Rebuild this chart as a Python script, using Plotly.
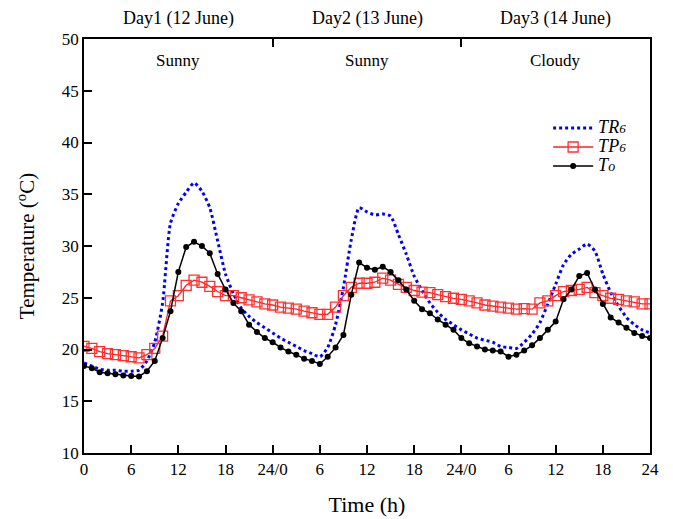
import plotly.graph_objects as go

hours = list(range(0, 73))

TR6 = [18.7, 18.4, 18.1, 18.0, 18.0, 17.9, 17.9, 18.0, 18.9, 20.7, 24.5, 32.2, 34.1, 35.2, 36.1, 35.3,
       33.7, 30.5, 27.3, 25.4, 24.0, 23.2, 22.6, 22.1, 21.6, 21.1, 20.7, 20.3, 19.9, 19.6, 19.3, 20.2,
       22.4, 26.0, 30.6, 33.7, 33.3, 33.0, 33.1, 32.9, 31.1, 29.2, 27.1, 25.7, 24.5, 23.6, 22.9, 22.4,
       21.9, 21.5, 21.1, 20.9, 20.7, 20.3, 20.2, 20.1, 20.7, 21.5, 22.6, 24.4, 26.3, 28.2, 29.2, 29.7,
       30.2, 29.5, 27.3, 25.5, 24.2, 23.1, 22.4, 21.9, 21.6]

TP6 = [20.3, 20.1, 19.8, 19.6, 19.5, 19.4, 19.3, 19.2, 19.5, 20.1, 21.3, 24.7, 25.2, 26.2, 26.7, 26.5,
       26.1, 25.6, 25.2, 25.2, 25.0, 24.8, 24.6, 24.4, 24.3, 24.1, 24.0, 23.9, 23.7, 23.55, 23.4, 23.4,
       24.1, 25.2, 26.0, 26.4, 26.4, 26.5, 26.9, 26.7, 26.3, 26.0, 25.7, 25.55, 25.5, 25.3, 25.1, 24.95,
       24.85, 24.7, 24.5, 24.3, 24.2, 24.1, 24.0, 23.9, 23.95, 23.9, 24.5, 24.7, 25.2, 25.6, 25.7, 25.8,
       26.0, 25.5, 25.2, 24.95, 24.85, 24.7, 24.6, 24.4, 24.4]

To = [18.4, 18.2, 17.8, 17.7, 17.6, 17.5, 17.45, 17.4, 17.9, 18.9, 21.1, 23.7, 27.5, 29.9, 30.4, 30.0,
      29.3, 27.3, 25.8, 24.5, 23.7, 22.4, 21.7, 21.1, 20.7, 20.2, 19.8, 19.5, 19.1, 18.9, 18.6, 19.3,
      20.2, 21.4, 25.3, 28.4, 27.9, 27.7, 28.0, 27.5, 26.7, 25.8, 24.7, 23.9, 23.5, 22.9, 22.4, 21.9,
      21.1, 20.6, 20.3, 20.0, 19.9, 19.8, 19.3, 19.5, 19.9, 20.4, 21.1, 21.9, 22.7, 24.85, 25.8, 27.1,
      27.4, 25.8, 24.4, 23.1, 22.6, 22.1, 21.6, 21.3, 21.1]

x_tickvals = [0, 6, 12, 18, 24, 30, 36, 42, 48, 54, 60, 66, 72]
x_ticktext = ["0", "6", "12", "18", "24/0", "6", "12", "18", "24/0", "6", "12", "18", "24"]
day_labels = ["Day1 (12 June)", "Day2 (13 June)", "Day3 (14 June)"]
day_centers = [12, 36, 60]
weather = ["Sunny", "Sunny", "Cloudy"]
day_bounds = [24, 48]

FONT = "Liberation Serif, Times New Roman, serif"

fig = go.Figure()
fig.add_trace(go.Scatter(
    x=hours, y=TR6, mode="lines",
    name="<i><span style='font-size:18px'>TR</span><span style='font-size:13px'>6</span></i>",
    line=dict(color="#0000ff", width=3, dash="dot", shape="spline", smoothing=0.6)))
fig.add_trace(go.Scatter(
    x=hours, y=TP6, mode="lines+markers",
    name="<i><span style='font-size:18px'>TP</span><span style='font-size:13px'>6</span></i>",
    line=dict(color="#ff2020", width=1.3),
    marker=dict(symbol="square-open", size=10, color="#ff3030", line=dict(width=1.3))))
fig.add_trace(go.Scatter(
    x=hours, y=To, mode="lines+markers",
    name="<i><span style='font-size:18px'>T</span><span style='font-size:14px'>o</span></i>",
    line=dict(color="black", width=1.5),
    marker=dict(symbol="circle", size=6, color="black")))
# invisible trace to carry the top axis
fig.add_trace(go.Scatter(x=[0, 72], y=[10, 10], xaxis="x2", mode="lines",
                         line=dict(width=0), showlegend=False, hoverinfo="skip"))

for c, d, w in zip(day_centers, day_labels, weather):
    fig.add_annotation(x=c, y=1.0, xref="x", yref="paper", text=d, showarrow=False,
                       yanchor="middle", yshift=21, font=dict(family=FONT, size=18, color="black"))
    fig.add_annotation(x=c, y=1.0, xref="x", yref="paper", text=w, showarrow=False,
                       yanchor="middle", yshift=-21, font=dict(family=FONT, size=17, color="black"))

fig.update_layout(
    width=673, height=519,
    margin=dict(l=84, r=23, t=39, b=66),
    paper_bgcolor="white", plot_bgcolor="white",
    font=dict(family=FONT, size=17, color="black"),
    showlegend=True,
    legend=dict(x=0.82, y=0.82, xanchor="left", yanchor="top", bgcolor="rgba(255,255,255,0)",
                font=dict(family=FONT, size=12), tracegroupgap=0, itemwidth=40),
    xaxis=dict(range=[0, 72], tickvals=x_tickvals, ticktext=x_ticktext, ticks="inside",
               ticklen=8, tickwidth=1.5, tickcolor="black", showline=True, linecolor="black",
               linewidth=1.5, mirror=True, showgrid=False, zeroline=False, automargin=False,
               title=dict(text="Time (h)", font=dict(family=FONT, size=22), standoff=18),
               tickfont=dict(family=FONT, size=17)),
    xaxis2=dict(range=[0, 72], overlaying="x", side="top", tickvals=day_bounds, ticks="inside",
                ticklen=8, tickwidth=1.5, tickcolor="black", showticklabels=False,
                showline=False, showgrid=False, zeroline=False),
    yaxis=dict(range=[10, 50], dtick=5, ticks="inside", ticklen=8, tickwidth=1.5,
               tickcolor="black", showline=True, linecolor="black", linewidth=1.5, mirror=True,
               showgrid=False, zeroline=False, automargin=False,
               title=dict(text="Temperature (<sup>o</sup>C)", font=dict(family=FONT, size=21),
                          standoff=21),
               tickfont=dict(family=FONT, size=17)),
)

fig.write_html("out.html", post_script="document.body.style.margin='0';",
               config={"displayModeBar": False})
